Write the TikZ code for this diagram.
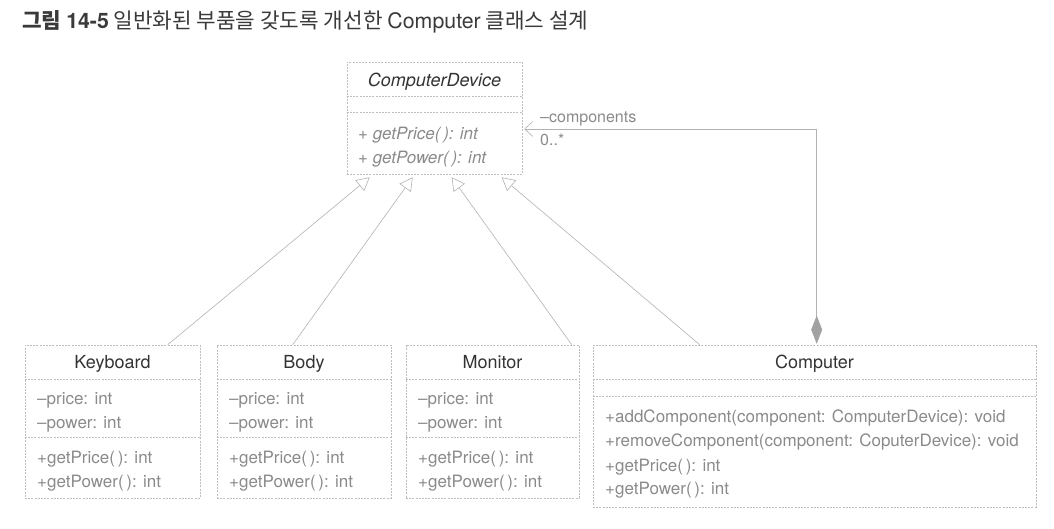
\documentclass[tikz,border=0pt]{standalone}
\usepackage{fontspec}
\setmainfont{TeX Gyre Heros}
\newfontfamily\krfont{Noto Sans CJK KR}
\usetikzlibrary{arrows.meta}
\definecolor{titlec}{HTML}{3A3A3A}
\definecolor{namec}{HTML}{333333}
\definecolor{attrc}{HTML}{8A8A8A}
\definecolor{borderc}{HTML}{BEBEBE}
\definecolor{linec}{HTML}{B2B2B2}
\definecolor{diamc}{HTML}{A2A2A2}
\begin{document}
\begin{tikzpicture}[x=1pt,y=-1pt,
  classbox/.style={draw=borderc, line width=0.6pt, dash pattern=on 2pt off 1.2pt, inner sep=0pt},
  divider/.style={draw=borderc, line width=0.6pt, dash pattern=on 2pt off 1.2pt},
  nametxt/.style={font=\fontsize{18}{21}\selectfont, text=namec, inner sep=0pt, text height=13pt, text depth=0pt},
  inametxt/.style={nametxt, font=\fontsize{18}{21}\selectfont\itshape},
  attrtxt/.style={font=\fontsize{17}{20}\selectfont, text=attrc, inner sep=0pt, anchor=west, text height=12pt, text depth=0pt},
  iattrtxt/.style={attrtxt, font=\fontsize{17}{20}\selectfont\itshape},
  lbltxt/.style={font=\fontsize{16}{19}\selectfont, text=attrc, inner sep=0pt, anchor=west, text height=11.5pt, text depth=0pt},
  gen/.style={draw=linec, line width=0.6pt, -{Triangle[open, length=13pt, width=14pt, fill=white]}},
  assoc/.style={draw=linec, line width=0.6pt, {Diamond[length=28pt, width=11pt, fill=diamc, color=diamc]}-{Straight Barb[length=8pt, width=15pt]}}
]
\useasboundingbox (0,0) rectangle (1054,528);

% title
\node[anchor=west, inner sep=0pt, font=\krfont\fontsize{21.3}{25}\selectfont, text=titlec] (title) at (22,22)
  {{\bfseries 그림 {\rmfamily 14-5}} 일반화된 부품을 갖도록 개선한 {\rmfamily Computer} 클래스 설계};

% ComputerDevice
\node[classbox, minimum width=175pt, minimum height=112pt] (cd) at (434.5,118) {};
\draw[divider] ([yshift=-35pt]cd.north west) -- ([yshift=-35pt]cd.north east);
\draw[divider] ([yshift=-51pt]cd.north west) -- ([yshift=-51pt]cd.north east);
\node[inametxt] (cdname) at (434.5,80) {ComputerDevice};
\node[iattrtxt] (cdm1) at (358,133) {+ getPrice(\,): int};
\node[iattrtxt] (cdm2) at (358,157) {+ getPower(\,): int};

% Keyboard
\node[classbox, minimum width=175pt, minimum height=153pt] (kb) at (112.5,421.5) {};
\draw[divider] ([yshift=-35pt]kb.north west) -- ([yshift=-35pt]kb.north east);
\draw[divider] ([yshift=-93pt]kb.north west) -- ([yshift=-93pt]kb.north east);
\node[nametxt] (kbname) at (112.5,362) {Keyboard};
\node[attrtxt] (kba1) at (37,398) {–price: int};
\node[attrtxt] (kba2) at (37,422) {–power: int};
\node[attrtxt] (kbm1) at (37,457) {+getPrice(\,): int};
\node[attrtxt] (kbm2) at (37,481) {+getPower(\,): int};

% Body
\node[classbox, minimum width=174pt, minimum height=153pt] (bd) at (304,421.5) {};
\draw[divider] ([yshift=-35pt]bd.north west) -- ([yshift=-35pt]bd.north east);
\draw[divider] ([yshift=-93pt]bd.north west) -- ([yshift=-93pt]bd.north east);
\node[nametxt] (bdname) at (304,362) {Body};
\node[attrtxt] (bda1) at (229,398) {–price: int};
\node[attrtxt] (bda2) at (229,422) {–power: int};
\node[attrtxt] (bdm1) at (229,457) {+getPrice(\,): int};
\node[attrtxt] (bdm2) at (229,481) {+getPower(\,): int};

% Monitor
\node[classbox, minimum width=173pt, minimum height=153pt] (mn) at (492.5,421.5) {};
\draw[divider] ([yshift=-35pt]mn.north west) -- ([yshift=-35pt]mn.north east);
\draw[divider] ([yshift=-93pt]mn.north west) -- ([yshift=-93pt]mn.north east);
\node[nametxt] (mnname) at (492.5,362) {Monitor};
\node[attrtxt] (mna1) at (418,398) {–price: int};
\node[attrtxt] (mna2) at (418,422) {–power: int};
\node[attrtxt] (mnm1) at (418,457) {+getPrice(\,): int};
\node[attrtxt] (mnm2) at (418,481) {+getPower(\,): int};

% Computer
\node[classbox, minimum width=443pt, minimum height=162pt] (cp) at (814.5,426) {};
\draw[divider] ([yshift=-35pt]cp.north west) -- ([yshift=-35pt]cp.north east);
\draw[divider] ([yshift=-52pt]cp.north west) -- ([yshift=-52pt]cp.north east);
\node[nametxt] (cpname) at (814.5,362) {Computer};
\node[attrtxt] (cpm1) at (605,416) {+addComponent(component: ComputerDevice): void};
\node[attrtxt] (cpm2) at (605,440) {+removeComponent(component: CoputerDevice): void};
\node[attrtxt] (cpm3) at (605,465) {+getPrice(\,): int};
\node[attrtxt] (cpm4) at (605,488) {+getPower(\,): int};

% connector end points
\coordinate (kbs) at ([xshift=143pt]kb.north west);
\coordinate (bds) at ([xshift=76pt]bd.north west);
\coordinate (mns) at ([xshift=166pt]mn.north west);
\coordinate (cps) at ([xshift=107pt]cp.north west);
\coordinate (t1) at ([xshift=23pt,yshift=-3pt]cd.south west);
\coordinate (t2) at ([xshift=66pt,yshift=-3pt]cd.south west);
\coordinate (t3) at ([xshift=105pt,yshift=-3pt]cd.south west);
\coordinate (t4) at ([xshift=155pt,yshift=-3pt]cd.south west);
\coordinate (dstart) at ([xshift=224pt,yshift=1pt]cp.north west);
\coordinate (aend) at ([xshift=2pt,yshift=-11pt]cd.east);

% generalizations
\draw[gen] (kbs) -- (t1);
\draw[gen] (bds) -- (t2);
\draw[gen] (mns) -- (t3);
\draw[gen] (cps) -- (t4);

% composition
\draw[assoc] (dstart) |- (aend);
\node[lbltxt] (lcomp) at (540,117) {–components};
\node[lbltxt] (lmult) at (540,140) {0..*};
\end{tikzpicture}
\end{document}
